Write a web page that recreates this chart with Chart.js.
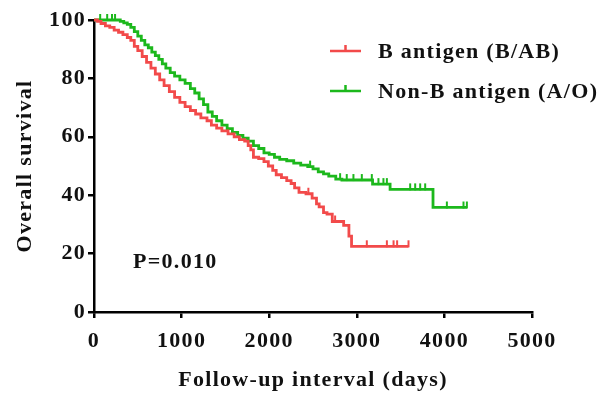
<!DOCTYPE html>
<html>
<head>
<script src="https://cdn.jsdelivr.net/npm/chart.js@4.4.0/dist/chart.umd.min.js"></script>
<style>
  html, body { margin: 0; padding: 0; background: #fff; }
  #wrap { width: 609px; height: 396px; position: relative; }
</style>
</head>
<body>
<div id="wrap"><canvas id="km"></canvas></div>
<script>
// B antigen (B/AB) - Kaplan-Meier steps
const bDays = [0, 40, 80, 130, 180, 230, 280, 330, 380, 420, 460, 500, 550, 600, 650, 700, 750, 800, 860, 920,
  980, 1040, 1100, 1160, 1220, 1290, 1340, 1400, 1460, 1530, 1600, 1660, 1720, 1760, 1790, 1820, 1880, 1940,
  1990, 2040, 2080, 2140, 2200, 2250, 2290, 2340, 2420, 2490, 2540, 2570, 2620, 2660, 2720, 2850, 2910, 2940, 3590];
const bSurv = [100, 99.5, 98.8, 98, 97.5, 96.5, 95.8, 95, 94, 93, 91, 89.5, 87.5, 85.5, 83.5, 81.5, 79.5, 77.5, 75.5, 73.5,
  71.8, 70.3, 69, 67.8, 66.5, 65.5, 64, 63, 62, 61, 60, 59, 58.5, 57, 55.5, 53, 52.5, 51.5,
  50, 48.5, 47, 46, 45, 44, 42.5, 41, 40.5, 39, 37, 36, 34, 33.5, 31, 29.7, 26, 22.5, 22.5];
const bCensorDays = [2447, 2752, 3114, 3343, 3419, 3460, 3590];
const bCensorSurv = [40.5, 31, 22.5, 22.5, 22.5, 22.5, 22.5];

// Non-B antigen (A/O)
const nDays = [0, 270, 300, 340, 380, 420, 460, 500, 540, 580, 620, 660, 700, 740, 780, 820, 870, 920, 980, 1040,
  1100, 1150, 1200, 1250, 1300, 1350, 1400, 1460, 1520, 1580, 1640, 1700, 1760, 1820, 1880, 1940, 2000, 2060,
  2120, 2200, 2280, 2360, 2440, 2500, 2560, 2620, 2680, 2760, 2830, 3180, 3380, 3870, 4256];
const nSurv = [100, 100, 99.5, 99, 98.5, 97.5, 96, 94.5, 93, 91.5, 90.5, 89, 87.8, 86.5, 85, 83.5, 82, 80.8, 79.5, 78.3,
  76.5, 75, 73, 71, 68.5, 67, 65.5, 64, 62.8, 61.5, 60.5, 59.5, 58.5, 57, 56, 54.5, 54, 53,
  52.3, 51.8, 51, 50.3, 49.8, 49, 48, 47.3, 46.5, 45.5, 45.2, 43.8, 42, 35.8, 35.8];
const nCensorDays = [70, 150, 205, 240, 2467, 2809, 2885, 2961, 3057, 3171, 3247, 3304, 3343, 3609, 3666, 3723, 3780, 4028, 4218, 4256];
const nCensorSurv = [100, 100, 100, 100, 49.8, 45.5, 45.2, 45.2, 45.2, 45.2, 43.8, 43.8, 43.8, 42, 42, 42, 42, 35.8, 35.8, 35.8];

const xTicks = [0, 1000, 2000, 3000, 4000, 5000];
const yTicks = [0, 20, 40, 60, 80, 100];
const seriesNames = ['B antigen (B/AB)', 'Non-B antigen (A/O)'];

const RED = '#f24a4a';
const GREEN = '#1cb81c';
const FONT = '"Liberation Serif", "Times New Roman", serif';

function tickMark(color) {
  const c = document.createElement('canvas');
  c.width = 4; c.height = 14;
  const g = c.getContext('2d');
  g.fillStyle = color;
  g.fillRect(1, 1, 2, 7);
  return c;
}

function pts(xs, ys) { return xs.map((x, i) => ({ x: x, y: ys[i] })); }

// the original uses a slightly spaced-out Times face
const spacing = {
  id: 'spacing',
  beforeDraw(chart) { chart.ctx.letterSpacing = '1.3px'; }
};

const overlay = {
  id: 'overlay',
  afterDraw(chart) {
    const ctx = chart.ctx;
    ctx.save();
    ctx.letterSpacing = '1.3px';
    ctx.font = 'bold 22px ' + FONT;
    ctx.fillStyle = '#111';
    ctx.textBaseline = 'middle';
    const rows = [[RED, 51], [GREEN, 91]];
    rows.forEach((r, i) => {
      ctx.strokeStyle = r[0];
      ctx.lineWidth = 2.5;
      ctx.beginPath();
      ctx.moveTo(330, r[1]); ctx.lineTo(361, r[1]);
      ctx.moveTo(345.5, r[1]); ctx.lineTo(345.5, r[1] - 6);
      ctx.stroke();
      ctx.fillText(seriesNames[i], 378, r[1] + 1);
    });
    ctx.fillText('P=0.010', 133, 262);
    ctx.restore();
  }
};

new Chart(document.getElementById('km'), {
  type: 'line',
  data: {
    datasets: [
      { label: seriesNames[0], data: pts(bDays, bSurv), borderColor: RED, borderWidth: 2.8, stepped: true, pointRadius: 0, clip: false },
      { label: seriesNames[1], data: pts(nDays, nSurv), borderColor: GREEN, borderWidth: 2.8, stepped: true, pointRadius: 0, clip: false },
      { data: pts(bCensorDays, bCensorSurv), showLine: false, pointStyle: tickMark(RED), clip: false },
      { data: pts(nCensorDays, nCensorSurv), showLine: false, pointStyle: tickMark(GREEN), clip: false }
    ]
  },
  options: {
    responsive: true,
    maintainAspectRatio: false,
    animation: false,
    layout: { padding: { left: 12, top: 20, right: 77, bottom: 0 } },
    plugins: { legend: { display: false }, tooltip: { enabled: false } },
    scales: {
      x: {
        type: 'linear', min: 0, max: 5000,
        afterBuildTicks: s => { s.ticks = xTicks.map(v => ({ value: v })); },
        afterFit: s => { s.height = 84; },
        border: { color: '#000', width: 2.5 },
        grid: { drawOnChartArea: false, color: '#000', lineWidth: 2.5, tickLength: 6 },
        ticks: { color: '#111', padding: 10, callback: v => String(v), font: { family: FONT, size: 22, weight: 'bold' } },
        title: { display: true, text: 'Follow-up interval (days)', color: '#111', padding: { top: 0, bottom: 2 },
          font: { family: FONT, size: 22, weight: 'bold' } }
      },
      y: {
        min: 0, max: 100,
        afterBuildTicks: s => { s.ticks = yTicks.map(v => ({ value: v })); },
        afterFit: s => { s.width = 82; },
        border: { color: '#000', width: 2.5 },
        grid: { drawOnChartArea: false, color: '#000', lineWidth: 2.5, tickLength: 6 },
        ticks: { color: '#111', padding: 2, font: { family: FONT, size: 22, weight: 'bold' } },
        title: { display: true, text: 'Overall survival', color: '#111', padding: 0,
          font: { family: FONT, size: 22, weight: 'bold' } }
      }
    }
  },
  plugins: [spacing, overlay]
});
</script>
</body>
</html>
